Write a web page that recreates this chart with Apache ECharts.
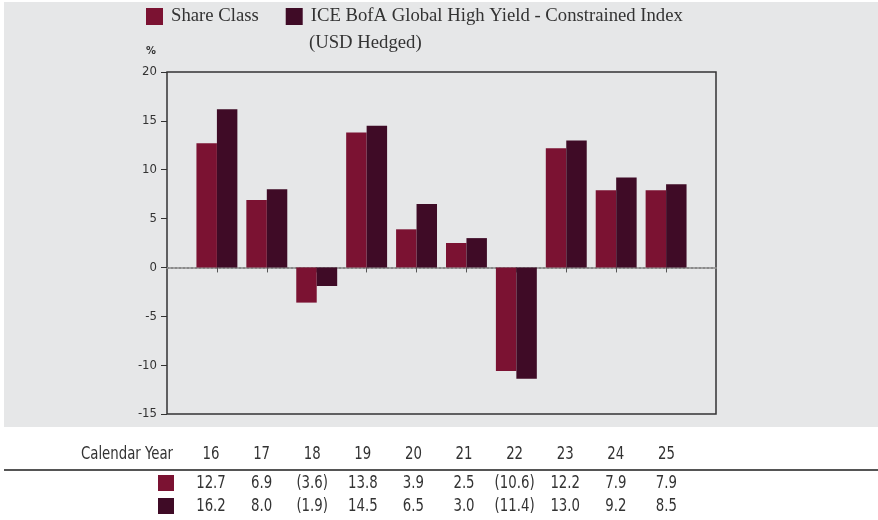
<!DOCTYPE html>
<html><head><meta charset="utf-8">
<script src="https://cdn.jsdelivr.net/npm/echarts@6/dist/echarts.min.js"></script>
<style>html,body{margin:0;padding:0;background:#fff}#c{width:878px;height:520px}</style>
</head><body><div id="c"></div>
<script>
// ---- data ----
const years = ['16','17','18','19','20','21','22','23','24','25'];
const shareClass = [12.7, 6.9, -3.6, 13.8, 3.9, 2.5, -10.6, 12.2, 7.9, 7.9];
const indexVals  = [16.2, 8.0, -1.9, 14.5, 6.5, 3.0, -11.4, 13.0, 9.2, 8.5];
const yMin = -15, yMax = 20, yStep = 5;
const nameShare = 'Share Class';
const nameIndex = 'ICE BofA Global High Yield - Constrained Index';
const nameIndex2 = '(USD Hedged)';
const tableHeader = 'Calendar Year';

// ---- styles ----
const C_SHARE = '#7B1232';
const C_INDEX = '#3F0B26';
const NARROW = "'Liberation Sans Narrow','DejaVu Sans Condensed','Arial Narrow',sans-serif";
const SERIF = "'Liberation Serif','DejaVu Serif',serif";

const cats = ['_L', ...years, '_R'];
const pad = arr => [null, ...arr, null];
const fmt = v => v < 0 ? '(' + Math.abs(v).toFixed(1) + ')' : v.toFixed(1);

const colX0 = 211, colStep = 50.6, SX = 0.87;
const tText = (x, y, text, align) => ({type:'text', x:x, y:y, scaleX:SX,
  style:{text:text, font:'17px ' + NARROW, fill:'#333', align:align, verticalAlign:'middle'}});
const tableEls = [];
tableEls.push(tText(173, 455, tableHeader, 'right'));
tableEls.push({type:'rect', shape:{x:4, y:469, width:874, height:2}, style:{fill:'#555'}});
tableEls.push({type:'rect', shape:{x:158, y:475, width:16, height:16}, style:{fill:C_SHARE}});
tableEls.push({type:'rect', shape:{x:158, y:498, width:16, height:16}, style:{fill:C_INDEX}});
years.forEach((y, i) => {
  const x = colX0 + colStep * i;
  tableEls.push(tText(x, 455, y, 'center'));
  tableEls.push(tText(x, 484, fmt(shareClass[i]), 'center'));
  tableEls.push(tText(x, 507, fmt(indexVals[i]), 'center'));
});

const chart = echarts.init(document.getElementById('c'), null, {renderer:'canvas'});
chart.setOption({
  animation: false,
  backgroundColor: '#fff',
  graphic: [
    {type:'rect', z:-100, shape:{x:4, y:2, width:874, height:425}, style:{fill:'#E6E7E8'}},
    {type:'text', x:146, y:51, style:{text:'%', font:'bold 11px ' + NARROW, fill:'#333', verticalAlign:'middle'}},
    {type:'text', x:309, y:43, style:{text:nameIndex2, font:'18.7px ' + SERIF, fill:'#333', verticalAlign:'middle'}},
    ...tableEls
  ],
  legend: {
    left: 146, top: 7, padding: 0,
    itemWidth: 17, itemHeight: 17, itemGap: 27,
    icon: 'rect',
    textStyle: {fontFamily: SERIF, fontSize: 18.7, color: '#333', padding: [0,0,0,3]},
    data: [nameShare, nameIndex]
  },
  grid: {left:167, right:162, top:72, bottom:106, show:true, borderColor:'#333', borderWidth:1.5, backgroundColor:'transparent'},
  xAxis: {
    type:'category', data: cats, boundaryGap:false,
    axisLine:{show:true, onZero:true, lineStyle:{color:'#8a8a8a', type:'dotted', width:2}},
    axisTick:{show:true, length:5, interval:(i, v) => years.includes(v), lineStyle:{color:'#555'}},
    axisLabel:{show:false}, splitLine:{show:false}
  },
  yAxis: {
    type:'value', min:yMin, max:yMax, interval:yStep,
    axisLine:{show:false},
    axisTick:{show:true, length:6, lineStyle:{color:'#333'}},
    axisLabel:{margin:10, fontSize:13, color:'#333', fontFamily:NARROW},
    splitLine:{show:false}
  },
  series: [
    {name:nameShare, type:'bar', data:pad(shareClass), itemStyle:{color:C_SHARE}, barGap:'0%', barCategoryGap:'18%'},
    {name:nameIndex, type:'bar', data:pad(indexVals), itemStyle:{color:C_INDEX}, barGap:'0%', barCategoryGap:'18%'}
  ]
});
</script></body></html>
